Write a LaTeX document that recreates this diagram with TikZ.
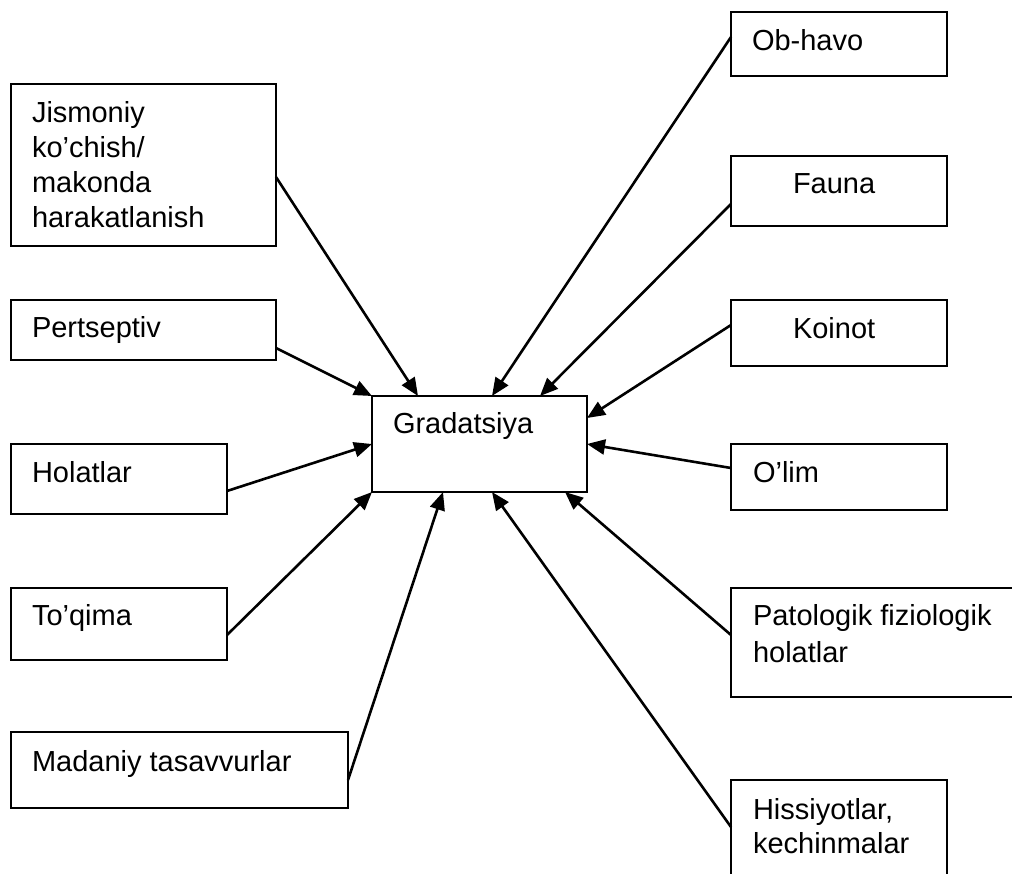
\documentclass[tikz,border=0pt]{standalone}
\usepackage{fontspec}
\setmainfont{Liberation Sans}
\usetikzlibrary{arrows.meta,calc}
\newcommand{\mylines}[1]{\begin{tabular}[t]{@{}l@{}}#1\end{tabular}}
\begin{document}
\begin{tikzpicture}[x=1pt,y=-1pt,
  boxnode/.style={draw,line width=2pt,inner sep=0pt,outer sep=0pt,anchor=north west},
  txt/.style={inner sep=0pt,outer sep=0pt,anchor=base west,font=\fontsize{29}{35}\selectfont},
  conn/.style={line width=2.6pt,-{Triangle[length=18pt,width=15pt]}}]
\clip (0,0) rectangle (1012,873);
\fill[white] (0,0) rectangle (1012,873);
% centre
\node[boxnode,minimum width=215pt,minimum height=96pt] (grad) at (372,396) {};
\node[txt] (gradT) at (393,433) {Gradatsiya};
% left column
\node[boxnode,minimum width=265pt,minimum height=162pt] (jism) at (11,84) {};
\node[txt] (jismT) at (32,122) {\mylines{Jismoniy\\ko’chish/\\makonda\\harakatlanish}};
\node[boxnode,minimum width=265pt,minimum height=60pt] (pert) at (11,300) {};
\node[txt] (pertT) at (32,337) {Pertseptiv};
\node[boxnode,minimum width=216pt,minimum height=70pt] (hol) at (11,444) {};
\node[txt] (holT) at (32,482) {Holatlar};
\node[boxnode,minimum width=216pt,minimum height=72pt] (toq) at (11,588) {};
\node[txt] (toqT) at (32,625) {To’qima};
\node[boxnode,minimum width=337pt,minimum height=76pt] (mad) at (11,732) {};
\node[txt] (madT) at (32,771) {Madaniy tasavvurlar};
% right column
\node[boxnode,minimum width=216pt,minimum height=64pt] (ob) at (731,12) {};
\node[txt] (obT) at (752,50) {Ob-havo};
\node[boxnode,minimum width=216pt,minimum height=70pt] (fau) at (731,156) {};
\node[txt] (fauT) at (793,193) {Fauna};
\node[boxnode,minimum width=216pt,minimum height=66pt] (koi) at (731,300) {};
\node[txt] (koiT) at (793,338) {Koinot};
\node[boxnode,minimum width=216pt,minimum height=66pt] (oli) at (731,444) {};
\node[txt] (oliT) at (753,482) {O’lim};
\node[boxnode,minimum width=300pt,minimum height=109pt] (pat) at (731,588) {};
\node[txt,font=\fontsize{29}{37}\selectfont] (patT) at (753,625) {\mylines{Patologik fiziologik\\holatlar}};
\node[boxnode,minimum width=216pt,minimum height=120pt] (his) at (731,780) {};
\node[txt,font=\fontsize{29}{34}\selectfont] (hisT) at (753,819) {\mylines{Hissiyotlar,\\kechinmalar}};
% connectors
\draw[conn] ($(jism.north east)+(0,93)$) -- ($(grad.north west)+(46,0)$);
\draw[conn] ($(pert.north east)+(0,48)$) -- (grad.north west);
\draw[conn] ($(hol.north east)+(0,47)$) -- ($(grad.north west)+(0,48)$);
\draw[conn] ($(toq.north east)+(0,47)$) -- (grad.south west);
\draw[conn] ($(mad.north east)+(0,48)$) -- ($(grad.south west)+(71,0)$);
\draw[conn] ($(ob.north west)+(0,25)$) -- ($(grad.north west)+(120,0)$);
\draw[conn] ($(fau.north west)+(0,48)$) -- ($(grad.north west)+(168,0)$);
\draw[conn] ($(koi.north west)+(0,25)$) -- ($(grad.north east)+(0,22)$);
\draw[conn] ($(oli.north west)+(0,24)$) -- ($(grad.north east)+(0,48)$);
\draw[conn] ($(pat.north west)+(0,47)$) -- ($(grad.south west)+(193,0)$);
\draw[conn] ($(his.north west)+(0,47)$) -- ($(grad.south west)+(120,0)$);
\end{tikzpicture}
\end{document}
